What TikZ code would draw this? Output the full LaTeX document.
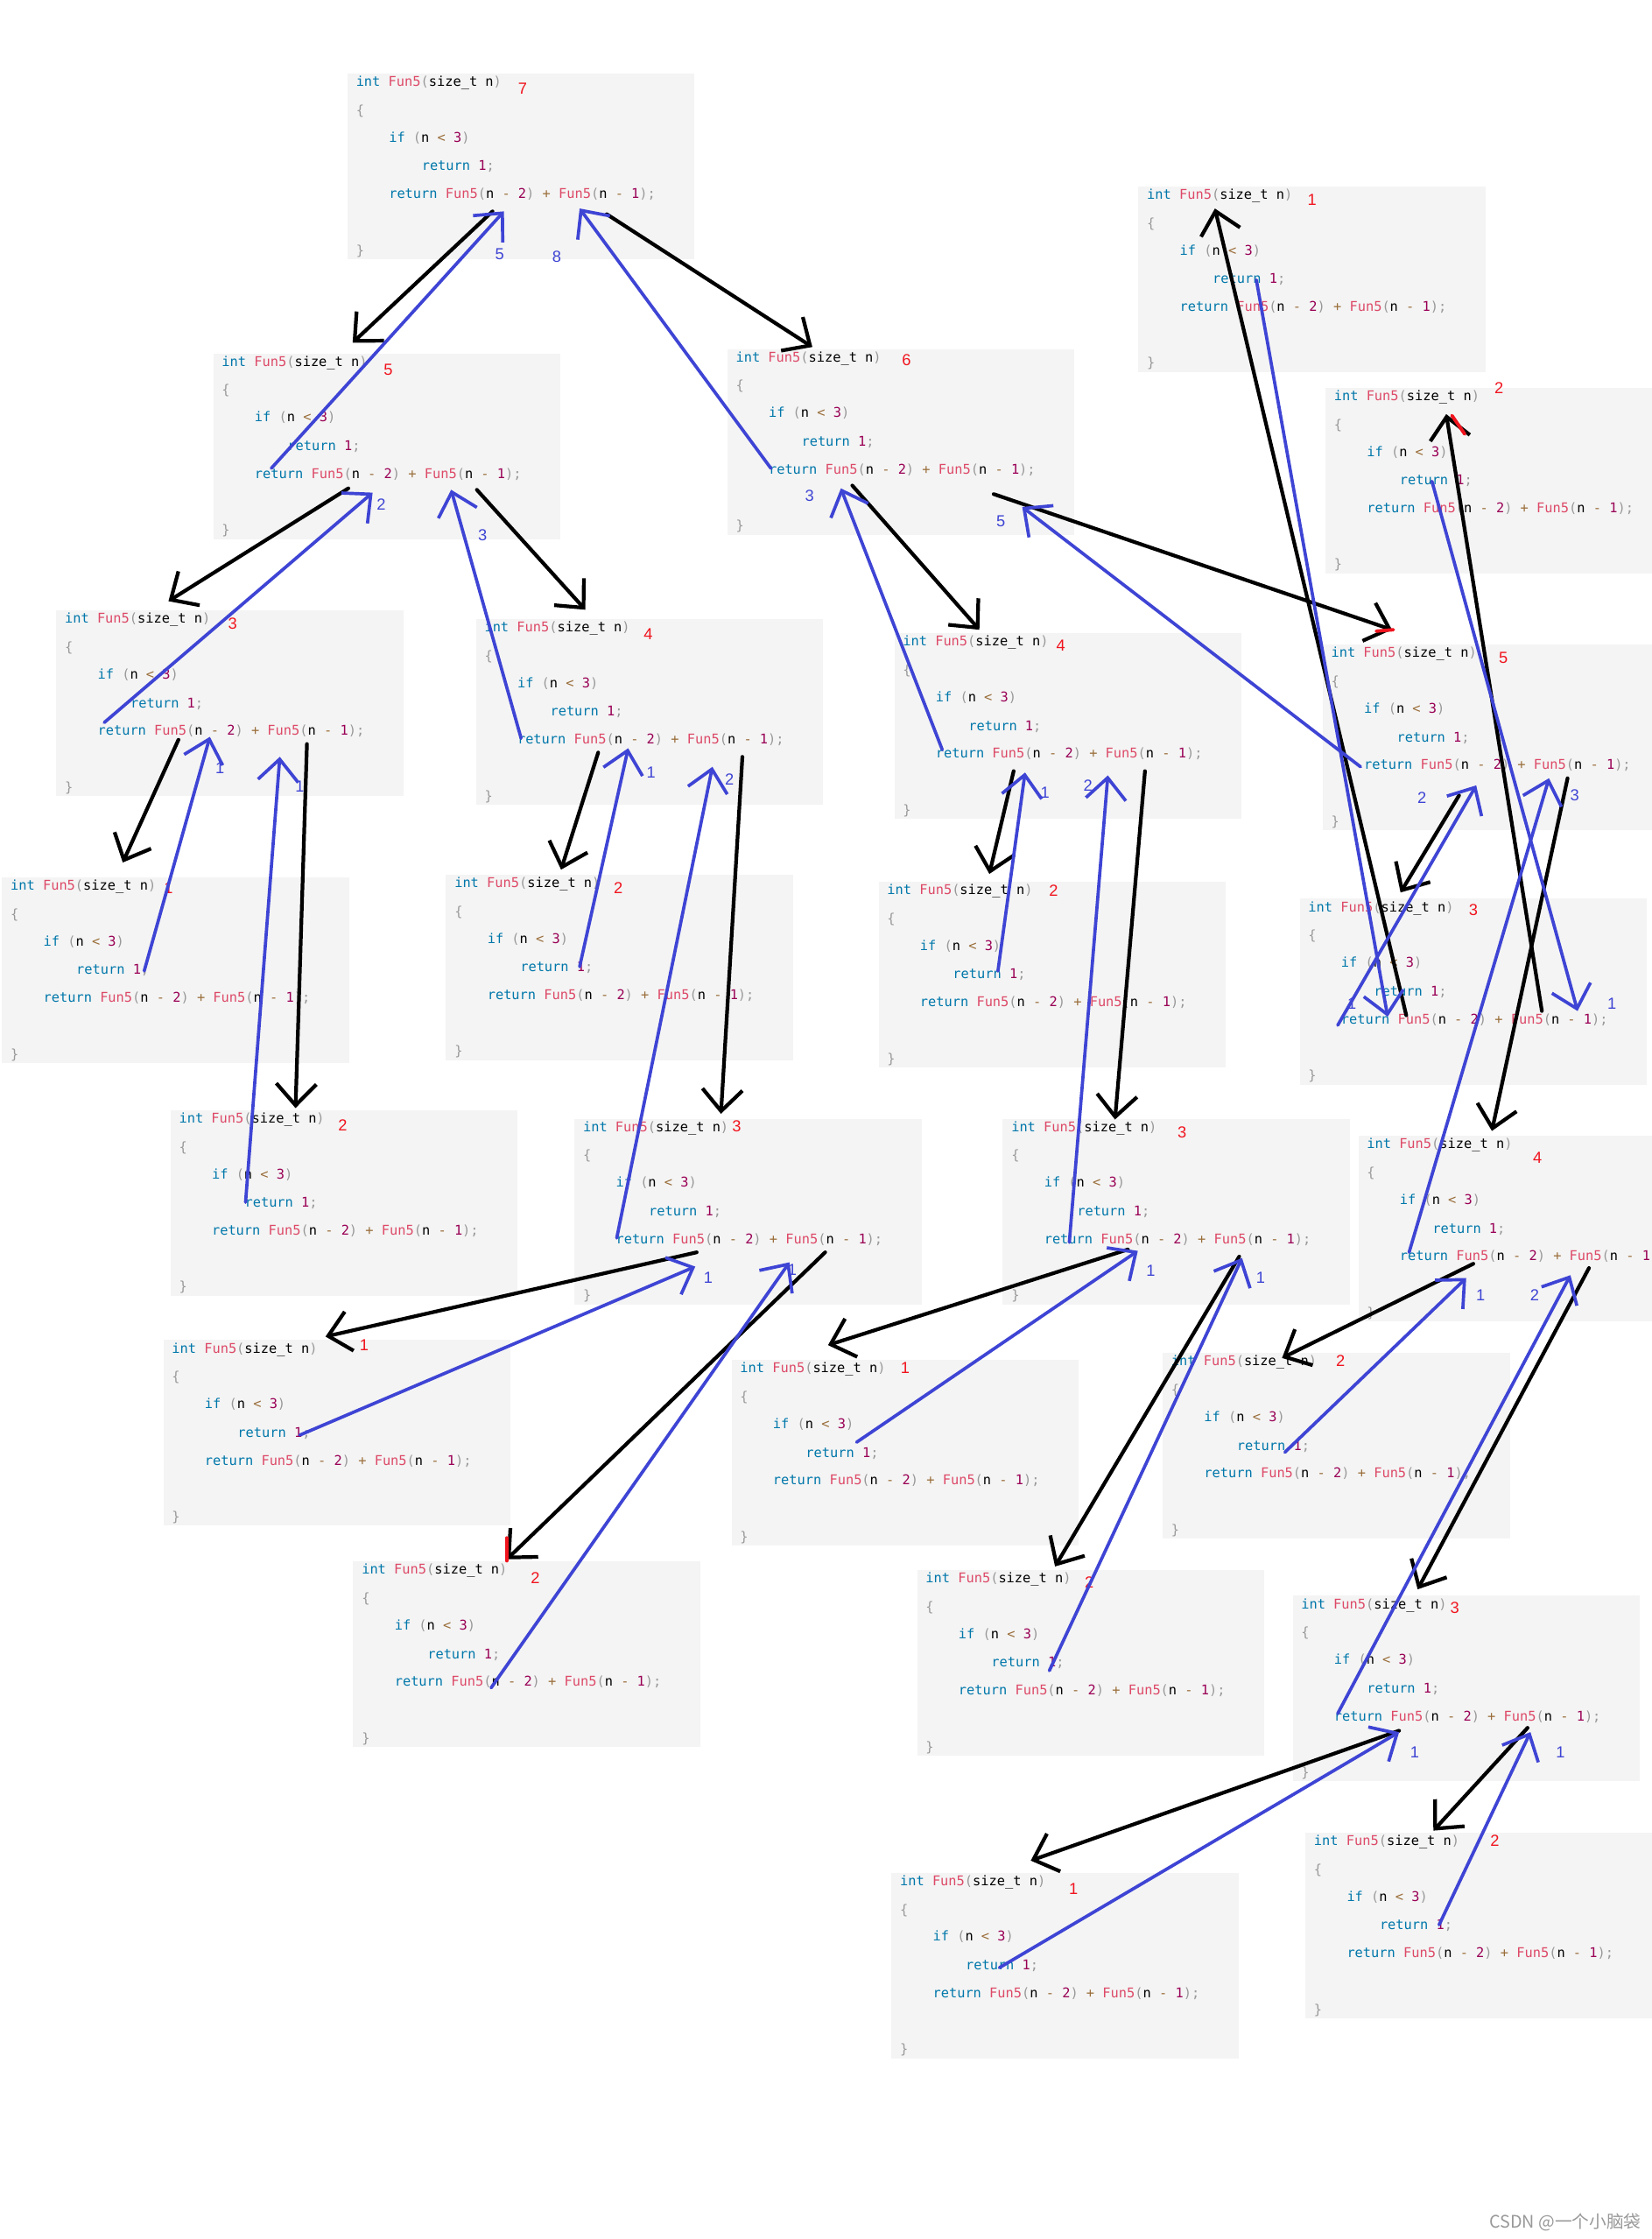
\documentclass[tikz,border=0pt]{standalone}
\usepackage{fontspec}
\usepackage{tikz}
\usetikzlibrary{arrows.meta}

\newfontfamily\codefont{DejaVu Sans Mono}
\newfontfamily\markfont{Liberation Sans}
\newfontfamily\cjk{Noto Sans CJK SC}

\definecolor{kwblue}{HTML}{0077AA}
\definecolor{fnred}{HTML}{DD4A68}
\definecolor{punct}{HTML}{999999}
\definecolor{numpurple}{HTML}{990055}
\definecolor{opbrown}{HTML}{9A6E3A}
\definecolor{boxgray}{HTML}{F4F4F4}
\definecolor{inkblue}{HTML}{3E44D4}
\definecolor{inkred}{HTML}{F0141E}

\newcommand{\ckw}[1]{\textcolor{kwblue}{#1}}
\newcommand{\cfn}[1]{\textcolor{fnred}{#1}}
\newcommand{\cpu}[1]{\textcolor{punct}{#1}}
\newcommand{\cnum}[1]{\textcolor{numpurple}{#1}}
\newcommand{\cop}[1]{\textcolor{opbrown}{#1}}

% one call of Fun5: name, x, y, n, where n is written
\newcommand{\funbox}[6]{%
  \begin{scope}[shift={(#2,#3)}]
    \node[codebox] (#1) at (0,0) {};
    \node[codeline] (#1-sig) at (6,7) {\ckw{int} \cfn{Fun5}\cpu{(}size\_t n\cpu{)}};
    \node[codeline] (#1-open) at (6,27) {\cpu{\{}};
    \node[codeline] (#1-if) at (29,46) {\ckw{if} \cpu{(}n \cop{<} \cnum{3}\cpu{)}};
    \node[codeline] (#1-base) at (52,66) {\ckw{return} \cnum{1}\cpu{;}};
    \node[codeline] (#1-rec) at (29,85.5) {\ckw{return} \cfn{Fun5}\cpu{(}n \cop{-} \cnum{2}\cpu{)} \cop{+} \cfn{Fun5}\cpu{(}n \cop{-} \cnum{1}\cpu{);}};
    \node[codeline] (#1-close) at (6,125) {\cpu{\}}};
    \node[nlabel] (#1-n) at (#5,#6) {#4};
  \end{scope}}

\begin{document}
\begin{tikzpicture}[
        x = 0.0163cm, y = -0.0163cm, % pixel grid of the sketch
        > = {Straight Barb[length=7pt, width=13pt]}, % hand drawn open head
        line cap = round,
        codebox/.style = {anchor=north west, fill=boxgray, inner sep=0pt,
          minimum width=3.961cm, minimum height=2.119cm},
        codeline/.style = {anchor=west, inner sep=0pt, text height=3.2pt, text depth=0.9pt,
          font=\codefont\fontsize{4.36pt}{5pt}\selectfont},
        nlabel/.style = {inner sep=0pt, text=inkred, font=\markfont\fontsize{5.2pt}{6pt}\selectfont},
        vlabel/.style = {inner sep=0pt, text=inkblue, font=\markfont\fontsize{5.2pt}{6pt}\selectfont},
        call/.style = {->, line width=1.2pt, black},
        ret/.style = {->, line width=1.05pt, inkblue},
        redmark/.style = {line width=1.1pt, inkred}
        ]

  \path[use as bounding box, fill=white] (0,0) rectangle (1157,1568);
  \clip (0,0) rectangle (1157,1568);

  \funbox{t}{243}{51}{7}{123}{11}
  \funbox{tRRLL}{797}{130}{1}{122}{10}
  \funbox{tL}{149}{247}{5}{123}{12}
  \funbox{tR}{509}{244}{6}{126}{8}
  \funbox{tRRLR}{928}{271}{2}{122}{1}
  \funbox{tLL}{39}{427}{3}{124}{10}
  \funbox{tLR}{333}{433}{4}{121}{11}
  \funbox{tRL}{626}{443}{4}{117}{9}
  \funbox{tRR}{926}{451}{5}{127}{10}
  \funbox{tLLL}{1}{614}{1}{117}{8}
  \funbox{tLRL}{312}{612}{2}{121}{10}
  \funbox{tRLL}{615}{617}{2}{123}{7}
  \funbox{tRRL}{910}{629}{3}{122}{8}
  \funbox{tLLR}{119}{777}{2}{121}{11}
  \funbox{tLRR}{402}{783}{3}{114}{6}
  \funbox{tRLR}{702}{783}{3}{126}{10}
  \funbox{tRRR}{951}{795}{4}{126}{16}
  \funbox{tLRRL}{114}{938}{1}{141}{4}
  \funbox{tRLRL}{512}{952}{1}{122}{6}
  \funbox{tRRRL}{814}{947}{2}{125}{6}
  \funbox{tLRRR}{247}{1093}{2}{128}{12}
  \funbox{tRLRR}{642}{1099}{2}{121}{9}
  \funbox{tRRRR}{905}{1117}{3}{114}{9}
  \funbox{tRRRRL}{624}{1311}{1}{128}{12}
  \funbox{tRRRRR}{914}{1283}{2}{133}{6}

  % where the strokes start and end
  \coordinate (t-callL) at (345,148); \coordinate (t-callR) at (425,150);
  \coordinate (t-backL) at (353,148); \coordinate (t-backR) at (406,146);
  \coordinate (tL-in) at (247,240); \coordinate (tL-out) at (190,328);
  \coordinate (tL-callL) at (244,342); \coordinate (tL-callR) at (334,343);
  \coordinate (tL-backL) at (261,345); \coordinate (tL-backR) at (316,343);
  \coordinate (tR-in) at (569,243); \coordinate (tR-out) at (540,328);
  \coordinate (tR-callL) at (597,340); \coordinate (tR-callR) at (696,346);
  \coordinate (tR-backL) at (589,342); \coordinate (tR-backR) at (716,355);
  \coordinate (tLL-in) at (118,421); \coordinate (tLL-out) at (73,506);
  \coordinate (tLL-callL) at (125,518); \coordinate (tLL-callR) at (215,521);
  \coordinate (tLL-backL) at (147,516); \coordinate (tLL-backR) at (196,530);
  \coordinate (tLR-in) at (410,427); \coordinate (tLR-out) at (365,517);
  \coordinate (tLR-callL) at (419,527); \coordinate (tLR-callR) at (520,530);
  \coordinate (tLR-backL) at (440,524); \coordinate (tLR-backR) at (499,537);
  \coordinate (tRL-in) at (686,441); \coordinate (tRL-out) at (660,525);
  \coordinate (tRL-callL) at (710,540); \coordinate (tRL-callR) at (802,540);
  \coordinate (tRL-backL) at (718,541); \coordinate (tRL-backR) at (776,543);
  \coordinate (tRR-in) at (975,441); \coordinate (tRR-out) at (953,537);
  \coordinate (tRR-callL) at (1022,557); \coordinate (tRR-callR) at (1098,545);
  \coordinate (tRR-backL) at (1034,550); \coordinate (tRR-backR) at (1085,545);
  \coordinate (tLLL-in) at (86,604); \coordinate (tLLL-out) at (101,680);
  \coordinate (tLLR-in) at (207,776); \coordinate (tLLR-out) at (172,842);
  \coordinate (tLRL-in) at (393,609); \coordinate (tLRL-out) at (406,677);
  \coordinate (tLRR-in) at (505,780); \coordinate (tLRR-out) at (432,867);
  \coordinate (tLRR-callL) at (488,877); \coordinate (tLRR-callR) at (578,877);
  \coordinate (tLRR-backL) at (487,887); \coordinate (tLRR-backR) at (553,884);
  \coordinate (tRLL-in) at (693,612); \coordinate (tRLL-out) at (699,680);
  \coordinate (tRLR-in) at (781,784); \coordinate (tRLR-out) at (749,870);
  \coordinate (tRLR-callL) at (790,875); \coordinate (tRLR-callR) at (868,880);
  \coordinate (tRLR-backL) at (797,876); \coordinate (tRLR-backR) at (870,881);
  \coordinate (tRRL-in) at (981,625); \coordinate (tRRL-out) at (937,718);
  \coordinate (tRRL-callL) at (985,711); \coordinate (tRRL-callR) at (1080,708);
  \coordinate (tRRL-backL) at (972,712); \coordinate (tRRL-backR) at (1105,708);
  \coordinate (tRRR-in) at (1045,792); \coordinate (tRRR-out) at (987,877);
  \coordinate (tRRR-callL) at (1032,885); \coordinate (tRRR-callR) at (1113,888);
  \coordinate (tRRR-backL) at (1027,895); \coordinate (tRRR-backR) at (1100,893);
  \coordinate (tLRRL-in) at (228,936); \coordinate (tLRRL-out) at (210,1005);
  \coordinate (tLRRR-in) at (355,1092); \coordinate (tLRRR-out) at (344,1182);
  \coordinate (tRLRL-in) at (580,942); \coordinate (tRLRL-out) at (600,1010);
  \coordinate (tRLRR-in) at (739,1097); \coordinate (tRLRR-out) at (735,1170);
  \coordinate (tRRLL-in) at (851,146); \coordinate (tRRLL-out) at (880,196);
  \coordinate (tRRLR-in) at (1013,290); \coordinate (tRRLR-out) at (1003,337);
  \coordinate (tRRRL-in) at (898,951); \coordinate (tRRRL-out) at (900,1017);
  \coordinate (tRRRR-in) at (993,1113); \coordinate (tRRRR-out) at (937,1200);
  \coordinate (tRRRR-callL) at (980,1212); \coordinate (tRRRR-callR) at (1070,1210);
  \coordinate (tRRRR-backL) at (980,1213); \coordinate (tRRRR-backR) at (1072,1213);
  \coordinate (tRRRRL-in) at (722,1303); \coordinate (tRRRRL-out) at (700,1378);
  \coordinate (tRRRRR-in) at (1004,1282); \coordinate (tRRRRR-out) at (1008,1348);

  % calls going down
  \draw[call] (t-callL) -- (tL-in);
  \draw[call] (t-callR) -- (tR-in);
  \draw[call] (tL-callL) -- (tLL-in);
  \draw[call] (tL-callR) -- (tLR-in);
  \draw[call] (tR-callL) -- (tRL-in);
  \draw[call] (tR-callR) -- (tRR-in);
  \draw[call] (tLL-callL) -- (tLLL-in);
  \draw[call] (tLL-callR) -- (tLLR-in);
  \draw[call] (tLR-callL) -- (tLRL-in);
  \draw[call] (tLR-callR) -- (tLRR-in);
  \draw[call] (tRL-callL) -- (tRLL-in);
  \draw[call] (tRL-callR) -- (tRLR-in);
  \draw[call] (tRR-callL) -- (tRRL-in);
  \draw[call] (tRR-callR) -- (tRRR-in);
  \draw[call] (tRRL-callL) -- (tRRLL-in);
  \draw[call] (tRRL-callR) -- (tRRLR-in);
  \draw[call] (tLRR-callL) -- (tLRRL-in);
  \draw[call] (tLRR-callR) -- (tLRRR-in);
  \draw[call] (tRLR-callL) -- (tRLRL-in);
  \draw[call] (tRLR-callR) -- (tRLRR-in);
  \draw[call] (tRRR-callL) -- (tRRRL-in);
  \draw[call] (tRRR-callR) -- (tRRRR-in);
  \draw[call] (tRRRR-callL) -- (tRRRRL-in);
  \draw[call] (tRRRR-callR) -- (tRRRRR-in);

  % values coming back
  \draw[ret] (tL-out) -- (t-backL);
  \draw[ret] (tR-out) -- (t-backR);
  \draw[ret] (tLL-out) -- (tL-backL);
  \draw[ret] (tLR-out) -- (tL-backR);
  \draw[ret] (tRL-out) -- (tR-backL);
  \draw[ret] (tRR-out) -- (tR-backR);
  \draw[ret] (tLLL-out) -- (tLL-backL);
  \draw[ret] (tLLR-out) -- (tLL-backR);
  \draw[ret] (tLRL-out) -- (tLR-backL);
  \draw[ret] (tLRR-out) -- (tLR-backR);
  \draw[ret] (tRLL-out) -- (tRL-backL);
  \draw[ret] (tRLR-out) -- (tRL-backR);
  \draw[ret] (tRRL-out) -- (tRR-backL);
  \draw[ret] (tRRR-out) -- (tRR-backR);
  \draw[ret] (tRRLL-out) -- (tRRL-backL);
  \draw[ret] (tRRLR-out) -- (tRRL-backR);
  \draw[ret] (tLRRL-out) -- (tLRR-backL);
  \draw[ret] (tLRRR-out) -- (tLRR-backR);
  \draw[ret] (tRLRL-out) -- (tRLR-backL);
  \draw[ret] (tRLRR-out) -- (tRLR-backR);
  \draw[ret] (tRRRL-out) -- (tRRR-backL);
  \draw[ret] (tRRRR-out) -- (tRRR-backR);
  \draw[ret] (tRRRRL-out) -- (tRRRR-backL);
  \draw[ret] (tRRRRR-out) -- (tRRRR-backR);

  \node[vlabel] (t-vL) at (350,178) {5};
  \node[vlabel] (t-vR) at (390,180) {8};
  \node[vlabel] (tL-vL) at (267,353) {2};
  \node[vlabel] (tL-vR) at (338,375) {3};
  \node[vlabel] (tR-vL) at (567,347) {3};
  \node[vlabel] (tR-vR) at (701,365) {5};
  \node[vlabel] (tLL-vL) at (154,538) {1};
  \node[vlabel] (tLL-vR) at (210,551) {1};
  \node[vlabel] (tLR-vL) at (456,541) {1};
  \node[vlabel] (tLR-vR) at (511,546) {2};
  \node[vlabel] (tRL-vL) at (732,555) {1};
  \node[vlabel] (tRL-vR) at (762,550) {2};
  \node[vlabel] (tRR-vL) at (996,559) {2};
  \node[vlabel] (tRR-vR) at (1103,557) {3};
  \node[vlabel] (tRRL-vL) at (947,703) {1};
  \node[vlabel] (tRRL-vR) at (1129,703) {1};
  \node[vlabel] (tLRR-vL) at (496,895) {1};
  \node[vlabel] (tLRR-vR) at (555,889) {1};
  \node[vlabel] (tRLR-vL) at (806,890) {1};
  \node[vlabel] (tRLR-vR) at (883,895) {1};
  \node[vlabel] (tRRR-vL) at (1037,907) {1};
  \node[vlabel] (tRRR-vR) at (1075,907) {2};
  \node[vlabel] (tRRRR-vL) at (991,1227) {1};
  \node[vlabel] (tRRRR-vR) at (1093,1227) {1};

  % red pen marks
  \draw[redmark] (1017,291) -- (1026,304);
  \draw[redmark] (964,442) -- (976,441);
  \draw[redmark] (355,1077) -- (355,1093);

  \node[anchor=east, inner sep=0pt, text=punct, font=\cjk\fontsize{5.6pt}{6pt}\selectfont] (mark) at (1150,1556) {CSDN @一个小脑袋};

\end{tikzpicture}
\end{document}
